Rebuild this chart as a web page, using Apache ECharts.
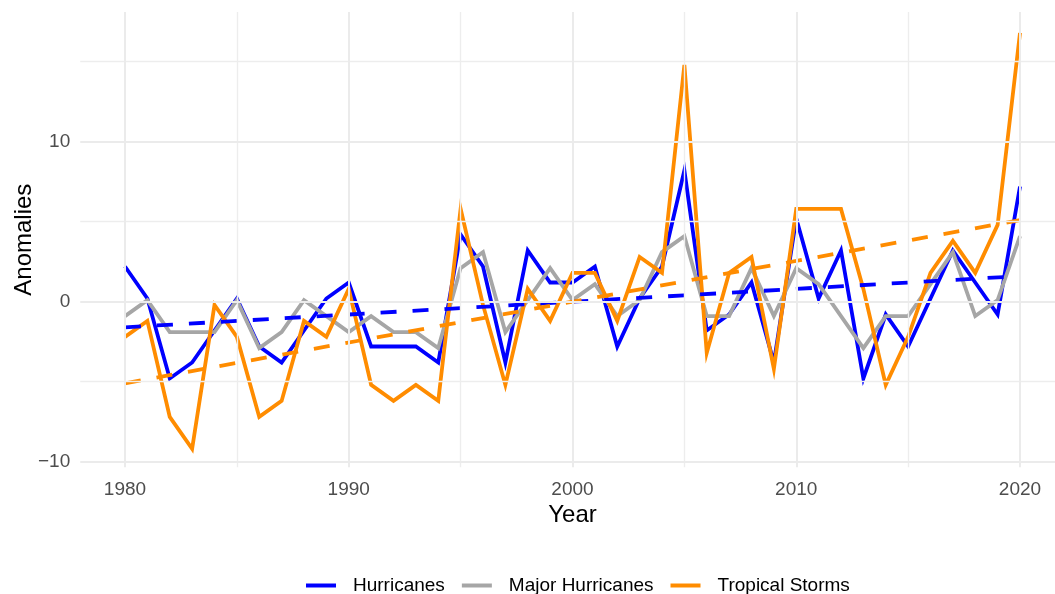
<!DOCTYPE html>
<html>
<head>
<meta charset="utf-8">
<title>Atlantic storm anomalies 1980–2020</title>
<script src="https://cdn.jsdelivr.net/npm/echarts@6/dist/echarts.min.js"></script>
<style>
  html, body { margin: 0; padding: 0; background: #ffffff; }
  #chart { width: 1055px; height: 594px; }
</style>
</head>
<body>
<div id="chart"></div>
<script>
// Yearly anomalies (count minus 1980–2020 mean)
const years = [1980,1981,1982,1983,1984,1985,1986,1987,1988,1989,
               1990,1991,1992,1993,1994,1995,1996,1997,1998,1999,
               2000,2001,2002,2003,2004,2005,2006,2007,2008,2009,
               2010,2011,2012,2013,2014,2015,2016,2017,2018,2019,2020];

const hurricanes = [2.2,0.2,-4.8,-3.8,-1.8,0.2,-2.8,-3.8,-1.8,0.2,
                    1.2,-2.8,-2.8,-2.8,-3.8,4.2,2.2,-3.8,3.2,1.2,
                    1.2,2.2,-2.8,0.2,2.2,8.2,-1.8,-0.8,1.2,-3.8,
                    5.2,0.2,3.2,-4.8,-0.8,-2.8,0.2,3.2,1.2,-0.8,7.2];

const majorHurricanes = [-0.9,0.1,-1.9,-1.9,-1.9,0.1,-2.9,-1.9,0.1,-0.9,
                         -1.9,-0.9,-1.9,-1.9,-2.9,2.1,3.1,-1.9,0.1,2.1,
                         0.1,1.1,-0.9,0.1,3.1,4.1,-0.9,-0.9,2.1,-0.9,
                         2.1,1.1,-0.9,-2.9,-0.9,-0.9,1.1,3.1,-0.9,0.1,4.1];

const tropicalStorms = [-2.2,-1.2,-7.2,-9.2,-0.2,-2.2,-7.2,-6.2,-1.2,-2.2,
                        0.8,-5.2,-6.2,-5.2,-6.2,5.8,-0.2,-5.2,0.8,-1.2,
                        1.8,1.8,-1.2,2.8,1.8,14.8,-3.2,1.8,2.8,-4.2,
                        5.8,5.8,5.8,0.8,-5.2,-2.2,1.8,3.8,1.8,4.8,16.8];

// Linear trend end points
const trendYears = [1980, 2020];
const hurricaneTrend = [-1.6, 1.6];
const stormTrend = [-5.1, 5.1];

// Axis ticks and grid positions
const xMajorTicks = [1980, 1990, 2000, 2010, 2020];
const xMinorTicks = [1985, 1995, 2005, 2015];
const yMajorTicks = [-10, 0, 10];
const yMinorTicks = [-5, 5, 15];

const seriesNames = ['Hurricanes', 'Major Hurricanes', 'Tropical Storms'];
const colors = { blue: '#0000ff', gray: '#a6a6a6', orange: '#ff8c00' };

const FONT = "'Liberation Sans', Arial, sans-serif";
const pairs = (xs, ys) => xs.map((x, i) => [x, ys[i]]);

const gridLines = [
  ...xMinorTicks.map(v => ({ xAxis: v, lineStyle: { width: 1.4, color: '#ededed', type: 'solid' } })),
  ...yMinorTicks.map(v => ({ yAxis: v, lineStyle: { width: 1.4, color: '#ededed', type: 'solid' } })),
  ...xMajorTicks.map(v => ({ xAxis: v, lineStyle: { width: 2, color: '#ebebeb', type: 'solid' } })),
  ...yMajorTicks.map(v => ({ yAxis: v, lineStyle: { width: 2, color: '#ebebeb', type: 'solid' } }))
];

const solidLine = (name, values, color) => ({
  name: name,
  type: 'line',
  data: pairs(years, values),
  showSymbol: false,
  symbol: 'none',
  z: 3,
  lineStyle: { width: 3.8, color: color, cap: 'butt', join: 'miter' },
  itemStyle: { color: color },
  emphasis: { disabled: true },
  animation: false
});

const trendLine = (name, values, color) => ({
  name: name,
  type: 'line',
  data: pairs(trendYears, values),
  showSymbol: false,
  symbol: 'none',
  z: 4,
  lineStyle: { width: 3.8, color: color, type: [16, 16], cap: 'butt' },
  itemStyle: { color: color },
  emphasis: { disabled: true },
  animation: false
});

const chart = echarts.init(document.getElementById('chart'), null, { renderer: 'canvas' });

chart.setOption({
  backgroundColor: '#ffffff',
  animation: false,
  textStyle: { fontFamily: FONT },
  grid: {
    left: 80.25, top: 12.1, width: 984.5, height: 455.2,
    containLabel: false,
    outerBoundsMode: 'none'
  },
  legend: {
    data: seriesNames,
    left: 301,
    top: 571,
    icon: 'rect',
    itemWidth: 30,
    itemHeight: 4,
    itemGap: 17,
    selectedMode: false,
    textStyle: { fontFamily: FONT, fontSize: 19, color: '#000000', padding: [0, 0, 0, 12] }
  },
  xAxis: {
    type: 'value',
    min: 1978,
    max: 2022,
    name: 'Year',
    nameLocation: 'middle',
    nameGap: 36,
    nameMoveOverlap: false,
    nameTextStyle: { fontFamily: FONT, fontSize: 24, color: '#000000' },
    axisLine: { show: false },
    axisTick: { show: false },
    splitLine: { show: false },
    axisLabel: {
      customValues: xMajorTicks,
      margin: 13,
      fontSize: 19,
      color: '#4d4d4d',
      fontFamily: FONT,
      formatter: v => String(v)
    }
  },
  yAxis: {
    type: 'value',
    min: -10.35,
    max: 18.1,
    name: 'Anomalies',
    nameLocation: 'middle',
    nameGap: 44,
    nameMoveOverlap: false,
    nameTextStyle: { fontFamily: FONT, fontSize: 24, color: '#000000' },
    axisLine: { show: false },
    axisTick: { show: false },
    splitLine: { show: false },
    axisLabel: {
      customValues: yMajorTicks,
      margin: 10,
      fontSize: 19,
      color: '#4d4d4d',
      fontFamily: FONT,
      formatter: v => (v < 0 ? '\u2212' + Math.abs(v) : String(v))
    }
  },
  series: [
    {
      name: 'panel grid',
      type: 'line',
      data: [],
      z: 1,
      silent: true,
      markLine: {
        silent: true,
        symbol: ['none', 'none'],
        label: { show: false },
        emphasis: { disabled: true },
        animation: false,
        data: gridLines
      }
    },
    solidLine(seriesNames[0], hurricanes, colors.blue),
    solidLine(seriesNames[1], majorHurricanes, colors.gray),
    solidLine(seriesNames[2], tropicalStorms, colors.orange),
    trendLine('Hurricanes trend', hurricaneTrend, colors.blue),
    trendLine('Tropical Storms trend', stormTrend, colors.orange)
  ]
});
</script>
</body>
</html>
